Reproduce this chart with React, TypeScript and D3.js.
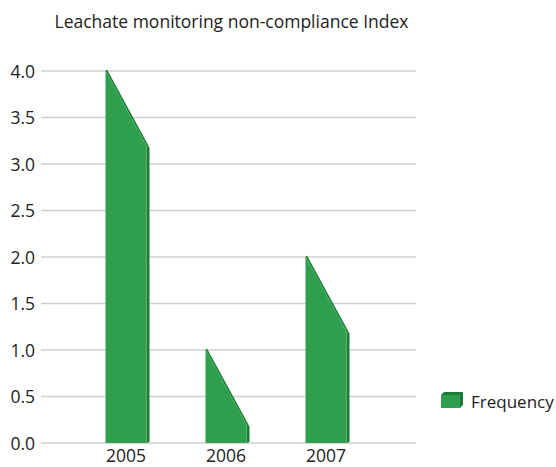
import React from "react";
import * as d3 from "d3";

const categories = ["2005", "2006", "2007"];
const values = [4.0, 1.0, 2.0];
const yTicks = [0, 0.5, 1.0, 1.5, 2.0, 2.5, 3.0, 3.5, 4.0];
const seriesName = "Frequency";
const title = "Leachate monitoring non-compliance Index";

const W = 556;
const H = 467;

export default function App() {
  const y = d3.scaleLinear().domain([0, 4]).range([443, 71]);
  const x = d3.scaleBand<string>().domain(categories).range([76, 376]).paddingInner(0.59).paddingOuter(0.295);
  const bw = x.bandwidth();
  const drop = 0.8; // slanted top drop in value units
  const depth = 3;
  const font = "'Open Sans', 'Noto Sans', sans-serif";
  const fill = "#2f9f4f";
  const dark = "#1d7a37";
  return (
    <svg width={W} height={H} style={{ position: "absolute", left: 0, top: 0 }}>
      <rect width={W} height={H} fill="#fff" />
      <text x={231.5} y={28} textAnchor="middle" fontFamily={font} fontSize={17.5} fill="#222">{title}</text>
      {yTicks.map((t) => (
        <g key={t}>
          <line x1={41} x2={416} y1={y(t)} y2={y(t)} stroke="#cfcfcf" strokeWidth={1.5} />
          <text x={35} y={y(t) + 6.5} textAnchor="end" fontFamily={font} fontSize={17.5} fill="#222">{t.toFixed(1)}</text>
        </g>
      ))}
      {categories.map((c, i) => {
        const x0 = x(c)!;
        const x1 = x0 + bw;
        const yl = y(values[i]);
        const yr = y(values[i] - drop);
        const y0 = y(0);
        return (
          <g key={c}>
            <polygon points={`${x1},${yr} ${x1 + depth},${yr + 2} ${x1 + depth},${y0 - 1} ${x1},${y0}`} fill={dark} />
            <polygon points={`${x0},${yl} ${x0 + 1.5},${yl - 1.5} ${x1 + depth},${yr + 2} ${x1},${yr}`} fill={dark} />
            <polygon points={`${x0},${yl} ${x1},${yr} ${x1},${y0} ${x0},${y0}`} fill={fill} />
            <line x1={x0 + 1} y1={yl + 1} x2={x1} y2={yr + 1} stroke="#3fb561" strokeWidth={0.8} />
            <text x={x0 + bw / 2} y={462} textAnchor="middle" fontFamily={font} fontSize={17.5} fill="#222">{c}</text>
          </g>
        );
      })}
      <g>
        <polygon points="441,395 444,392 463,392 463,405 460,408 441,408" fill={dark} />
        <rect x={441} y={395} width={19} height={13} fill={fill} />
        <text x={471} y={407.5} fontFamily={font} fontSize={17} fill="#222">{seriesName}</text>
      </g>
    </svg>
  );
}
